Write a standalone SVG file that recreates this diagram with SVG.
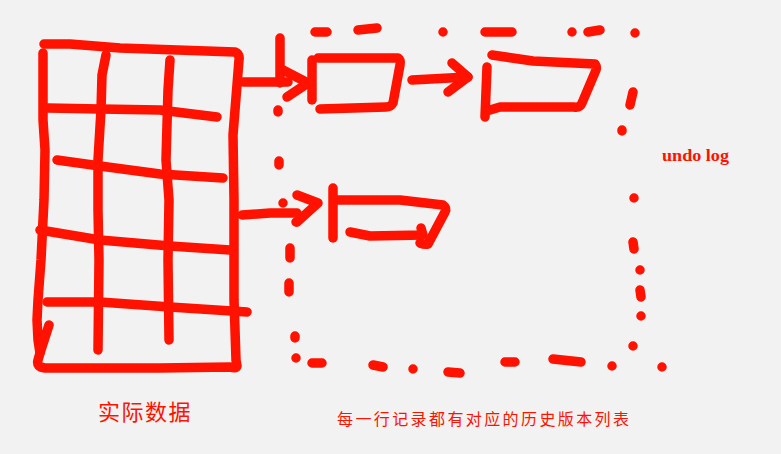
<svg xmlns="http://www.w3.org/2000/svg" width="781" height="454" viewBox="0 0 781 454">
<style>
.s{fill:none;stroke:#ff1200;stroke-width:9.5;stroke-linecap:round;stroke-linejoin:round}
.t{fill:#ff1200;font-family:"Noto Sans CJK SC","Noto Sans",sans-serif}
.u{fill:#ff1200;font-family:"Liberation Serif",serif;font-weight:bold}
</style>
<rect width="781" height="454" fill="#f2f2f2"/>
<g id="grid" class="s">
<path d="M44,44 L70,44 L120,48 L235,52 Q240,54 239,60 L235,110 L233,135 L234,200 L234,300 L236,360 L237,366 Q236,369 230,367 L160,368 L45,368 Q36,367 38,360 L40,353"/>
<path d="M43,53 L43,120 L45,150 L44,200 L41,260 L38,300 L37,320 L38,340 L40,353 L49,325"/>
<path d="M106,55 L102,75 L101,110 L98,160 L98,210 L99,260 L98,350"/>
<path d="M170,60 L168,90 L166,160 L169,200 L168,260 L169,340"/>
<path d="M48,108 L100,109 L160,110 L217,117"/>
<path d="M57,160 L100,166 L160,174 L223,178"/>
<path d="M40,230 L100,240 L170,246 L230,250"/>
<path d="M47,302 L100,302 L170,307 L247,312"/>
</g>
<g id="connectors" class="s">
<path d="M243,82 L288,82"/>
<path d="M283,70 L308,83 L287,97"/>
<path d="M412,80 L468,77"/>
<path d="M452,63 L468,77 L448,92"/>
<path d="M242,215 L270,213 L297,213"/>
<path d="M297,195 L318,203 L297,222"/>
</g>
<g id="version1" class="s">
<path d="M312,60 L312,100"/>
<path d="M318,58 L398,58 Q401,60 400,65 L393,103 Q391,107 386,107 L320,109"/>
</g>
<g id="version2" class="s">
<path d="M487,67 L485,117"/>
<path d="M492,55 L533,61 L595,64 Q597,67 596,70 L582,103 Q580,108 574,107 L500,107 L490,110"/>
</g>
<g id="version3" class="s">
<path d="M333,188 L333,238"/>
<path d="M335,200 L400,200 L443,205 Q447,208 445,212 L428,244 Q425,245 420,243"/>
<path d="M350,232 L370,236 L423,235 L421,228"/>
</g>
<g id="undo-log" class="s">
<path d="M315,32 L327,32 M358,30 L377,28 M443,32 L443,32 M485,32 L512,32 M572,32 L572,32 M588,32 L600,30 M635,33 L635,33"/>
<path d="M280,38 L280,83 M278,110 L278,112 M279,161 L279,165 M283,203 L283,203 M296,222 L296,222 M290,248 L290,258 M289,283 L289,292 M295,336 L295,338 M296,358 L296,358"/>
<path d="M312,363 L322,363 M373,365 L383,367 M413,369 L413,369 M448,372 L460,373 M505,362 L515,362 M553,359 L581,362 M612,366 L612,366 M662,367 L662,367"/>
<path d="M633,92 L630,105 M622,130 L622,131 M634,198 L634,198 M633,242 L634,249 M640,270 L640,270 M640,290 L641,297 M641,316 L641,316 M633,346 L633,346"/>
</g>
<g id="labels">
<text class="t" x="98" y="420" font-size="22" letter-spacing="1.5">实际数据</text>
<text class="t" x="337" y="425" font-size="16" letter-spacing="2.4">每一行记录都有对应的历史版本列表</text>
<text class="u" x="662" y="161" font-size="17" textLength="67" lengthAdjust="spacingAndGlyphs">undo log</text>
</g>
</svg>
